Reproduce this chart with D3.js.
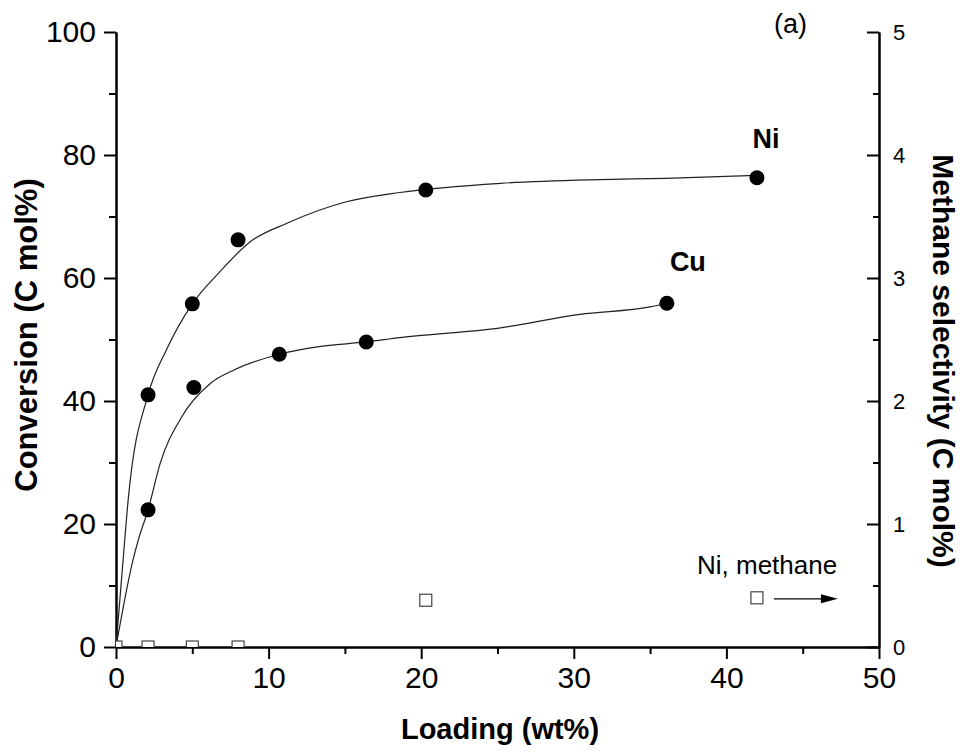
<!DOCTYPE html>
<html>
<head>
<meta charset="utf-8">
<script src="https://cdn.jsdelivr.net/npm/d3@7"></script>
<style>
  body { margin: 0; background: #fff; }
  text { font-family: "Liberation Sans", Arial, sans-serif; }
</style>
</head>
<body>
<script>
// measured points
var niLoading = [2.1, 5.0, 8.0, 20.3, 42.0];
var niConversion = [41.0, 55.8, 66.2, 74.3, 76.3];
var cuLoading = [2.1, 5.1, 10.7, 16.4, 36.1];
var cuConversion = [22.3, 42.2, 47.6, 49.6, 55.9];
var methaneLoading = [0, 2.1, 5.0, 8.0, 20.3, 42.0];
var methaneSelectivity = [0, 0, 0, 0, 0.38, 0.40];

// fitted curves
var niFitX = [0, 0.46, 0.8, 2.1, 3.3, 5.0, 6.8, 8.8, 11.2, 15.1, 18.6, 25.2, 31.7, 36.0, 42.0];
var niFitY = [0, 14, 24, 41, 48.3, 55.8, 61.0, 65.9, 68.9, 72.4, 73.9, 75.4, 76.0, 76.2, 76.7];
var cuFitX = [0, 1.1, 1.46, 2.1, 2.9, 4.3, 6.2, 7.7, 10.7, 13.2, 16.4, 18.6, 25.2, 30.4, 35.0, 36.1];
var cuFitY = [0, 14, 17.4, 22.3, 29.9, 37.4, 42.9, 45.0, 47.6, 48.8, 49.6, 50.3, 51.9, 54.1, 55.3, 55.9];

var xMajor = [0, 10, 20, 30, 40, 50];
var xMinor = [5, 15, 25, 35, 45];
var yMajor = [0, 20, 40, 60, 80, 100];
var yMinor = [10, 30, 50, 70, 90];
var y2Major = [0, 1, 2, 3, 4, 5];
var y2Minor = [0.5, 1.5, 2.5, 3.5, 4.5];

var W = 964, H = 752;
var mLeft = 116, mRight = 879, mTop = 32, mBottom = 647;

var svg = d3.select("body").append("svg")
    .attr("width", W)
    .attr("height", H);

var x = d3.scaleLinear().domain([0, 50]).range([mLeft, mRight]);
var y = d3.scaleLinear().domain([0, 100]).range([mBottom, mTop]);
var y2 = d3.scaleLinear().domain([0, 5]).range([mBottom, mTop]);

svg.append("clipPath").attr("id", "plotclip")
  .append("rect")
    .attr("x", mLeft).attr("y", mTop)
    .attr("width", mRight - mLeft).attr("height", mBottom - mTop);

function styleAxis(g, size) {
  g.attr("font-family", null).attr("font-size", null);
  g.selectAll("path, line").attr("stroke", "#000").attr("stroke-width", 2);
  g.selectAll("text").style("font-size", size + "px").attr("fill", "#000");
}

// minor ticks first
svg.append("g").attr("transform", "translate(0," + mBottom + ")")
    .call(d3.axisBottom(x).tickValues(xMinor).tickSize(7).tickFormat("").tickSizeOuter(0))
    .call(styleAxis, 30);
svg.append("g").attr("transform", "translate(" + mLeft + ",0)")
    .call(d3.axisLeft(y).tickValues(yMinor).tickSize(7).tickFormat("").tickSizeOuter(0))
    .call(styleAxis, 30);
svg.append("g").attr("transform", "translate(" + mRight + ",0)")
    .call(d3.axisRight(y2).tickValues(y2Minor).tickSize(-6).tickFormat("").tickSizeOuter(0))
    .call(styleAxis, 22);

// major ticks with labels
svg.append("g").attr("transform", "translate(0," + mBottom + ")")
    .call(d3.axisBottom(x).tickValues(xMajor).tickSize(12).tickPadding(8).tickSizeOuter(0))
    .call(styleAxis, 30);
svg.append("g").attr("transform", "translate(" + mLeft + ",0)")
    .call(d3.axisLeft(y).tickValues(yMajor).tickSize(12).tickPadding(8).tickSizeOuter(0))
    .call(styleAxis, 30);
svg.append("g").attr("transform", "translate(" + mRight + ",0)")
    .call(d3.axisRight(y2).tickValues(y2Major).tickFormat(d3.format("d"))
      .tickSize(-12).tickPadding(14).tickSizeOuter(0))
    .call(styleAxis, 22);

// axis titles
svg.append("text")
    .attr("x", 500).attr("y", 739)
    .attr("text-anchor", "middle")
    .style("font-size", "29px").style("font-weight", "bold")
    .text("Loading (wt%)");

svg.append("text")
    .attr("transform", "translate(37,335) rotate(-90)")
    .attr("text-anchor", "middle")
    .style("font-size", "31px").style("font-weight", "bold")
    .text("Conversion (C mol%)");

svg.append("text")
    .attr("transform", "translate(933,361) rotate(90)")
    .attr("text-anchor", "middle")
    .style("font-size", "30px").style("font-weight", "bold")
    .text("Methane selectivity (C mol%)");

// fit curves
var fitLine = d3.line()
    .x(function(d) { return x(d[0]); })
    .y(function(d) { return y(d[1]); })
    .curve(d3.curveMonotoneX);

svg.append("path")
    .attr("d", fitLine(d3.zip(niFitX, niFitY)))
    .attr("fill", "none").attr("stroke", "#222").attr("stroke-width", 1.2);
svg.append("path")
    .attr("d", fitLine(d3.zip(cuFitX, cuFitY)))
    .attr("fill", "none").attr("stroke", "#222").attr("stroke-width", 1.2);

// conversion points
svg.append("g").selectAll("circle")
    .data(d3.zip(niLoading, niConversion).concat(d3.zip(cuLoading, cuConversion)))
    .join("circle")
    .attr("cx", function(d) { return x(d[0]); })
    .attr("cy", function(d) { return y(d[1]); })
    .attr("r", 7.5)
    .attr("fill", "#000");

// methane selectivity (right axis)
var sq = 12;
svg.append("g").attr("clip-path", "url(#plotclip)")
  .selectAll("rect")
    .data(d3.zip(methaneLoading, methaneSelectivity))
    .join("rect")
    .attr("x", function(d) { return x(d[0]) - sq / 2; })
    .attr("y", function(d) { return y2(d[1]) - sq / 2; })
    .attr("width", sq).attr("height", sq)
    .attr("fill", "#fff")
    .attr("stroke", "#444").attr("stroke-width", 1.2);

// labels
svg.append("text")
    .attr("x", x(42) + 9).attr("y", y(76.3) - 30)
    .attr("text-anchor", "middle")
    .style("font-size", "27px").style("font-weight", "bold")
    .text("Ni");
svg.append("text")
    .attr("x", x(36.1) + 21).attr("y", y(55.9) - 32)
    .attr("text-anchor", "middle")
    .style("font-size", "27px").style("font-weight", "bold")
    .text("Cu");
svg.append("text")
    .attr("x", 774).attr("y", 33)
    .style("font-size", "27px")
    .text("(a)");
svg.append("text")
    .attr("x", 697).attr("y", 574)
    .style("font-size", "26px")
    .text("Ni, methane");

// arrow pointing to the right axis
var ax = x(42), ay = y2(0.40);
svg.append("line")
    .attr("x1", ax + 17).attr("x2", ax + 68)
    .attr("y1", ay + 1).attr("y2", ay + 1)
    .attr("stroke", "#000").attr("stroke-width", 1.3);
svg.append("path")
    .attr("d", "M" + (ax + 81) + "," + (ay + 1) + " L" + (ax + 64) + "," + (ay - 3.5) + " L" + (ax + 64) + "," + (ay + 5.5) + " Z")
    .attr("fill", "#000");
</script>
</body>
</html>
